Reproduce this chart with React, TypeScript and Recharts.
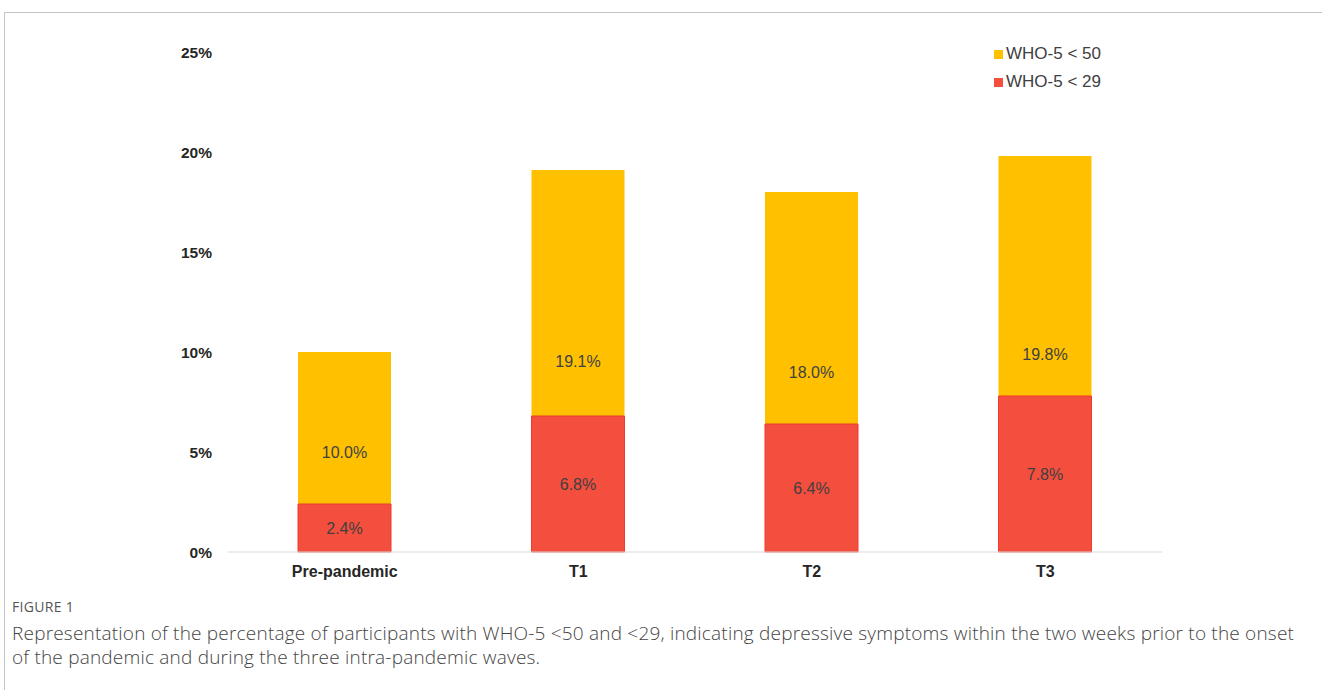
import { BarChart, Bar, XAxis, YAxis, LabelList } from 'recharts';

const categories = ['Pre-pandemic', 'T1', 'T2', 'T3'];
const who50 = [10.0, 19.1, 18.0, 19.8];
const who29 = [2.4, 6.8, 6.4, 7.8];
const yTicks = [0, 5, 10, 15, 20, 25];
const seriesNames = ['WHO-5 < 50', 'WHO-5 < 29'];

const data = categories.map((name, i) => ({ name, who50: who50[i], who29: who29[i] }));

const YELLOW = '#FFC000';
const RED = '#F44E3E';
const FONT = 'Liberation Sans, Arial, sans-serif';

const pct = (v: number) => `${v.toFixed(1)}%`;

export default function App() {
  return (
    <div style={{ position: 'absolute', left: 0, top: 0, width: 1322, height: 690, background: '#fff', overflow: 'hidden' }}>
      <div style={{ position: 'absolute', left: 4, top: 12, width: 1330, height: 700, borderLeft: '1px solid #c4c4c4', borderTop: '1px solid #c4c4c4' }} />
      <div style={{ position: 'absolute', left: 0, top: 0 }}>
        <BarChart
          width={1322}
          height={600}
          data={data}
          margin={{ top: 52, right: 160, bottom: 18, left: 0 }}
          barGap={-93}
          barSize={93}
        >
          <XAxis
            dataKey="name"
            axisLine={{ stroke: '#d9d9d9' }}
            tickLine={false}
            tickSize={0}
            tickMargin={14}
            height={30}
            tick={{ fontFamily: FONT, fontSize: 16, fontWeight: 700, fill: '#262626' }}
          />
          <YAxis
            width={228}
            domain={[0, 25]}
            ticks={yTicks}
            axisLine={false}
            tickLine={false}
            tickSize={0}
            tickMargin={16}
            tickFormatter={(v: number) => `${v}%`}
            tick={{ fontFamily: FONT, fontSize: 15.5, fontWeight: 700, fill: '#262626' }}
          />
          <Bar dataKey="who50" name={seriesNames[0]} fill={YELLOW} isAnimationActive={false}>
            <LabelList
              dataKey="who50"
              position="center"
              formatter={(v: any) => pct(Number(v))}
              style={{ fontFamily: FONT, fontSize: 16, fill: '#404040' }}
            />
          </Bar>
          <Bar dataKey="who29" name={seriesNames[1]} fill={RED} stroke="#EE3B2C" strokeWidth={1} isAnimationActive={false}>
            <LabelList
              dataKey="who29"
              position="center"
              formatter={(v: any) => pct(Number(v))}
              style={{ fontFamily: FONT, fontSize: 16, fill: '#404040' }}
            />
          </Bar>
        </BarChart>
      </div>
      <div style={{ position: 'absolute', left: 994, top: 40, fontFamily: FONT, fontSize: 17, color: '#404040' }}>
        {seriesNames.map((n, i) => (
          <div key={n} style={{ display: 'flex', alignItems: 'center', height: 28 }}>
            <span style={{ width: 9, height: 9, background: i === 0 ? YELLOW : RED, display: 'inline-block', marginRight: 3 }} />
            {n}
          </div>
        ))}
      </div>
      <div style={{ position: 'absolute', left: 12, top: 597, fontFamily: 'Open Sans, sans-serif', fontSize: 14, color: '#555', letterSpacing: 0.3 }}>
        FIGURE 1
      </div>
      <div style={{ position: 'absolute', left: 12, top: 621, width: 1300, fontFamily: 'Open Sans, sans-serif', fontSize: 19, fontWeight: 300, lineHeight: '24px', letterSpacing: 0.2, color: '#444' }}>
        Representation of the percentage of participants with WHO-5 &lt;50 and &lt;29, indicating depressive symptoms within the two weeks prior to the onset of the pandemic and during the three intra-pandemic waves.
      </div>
    </div>
  );
}
